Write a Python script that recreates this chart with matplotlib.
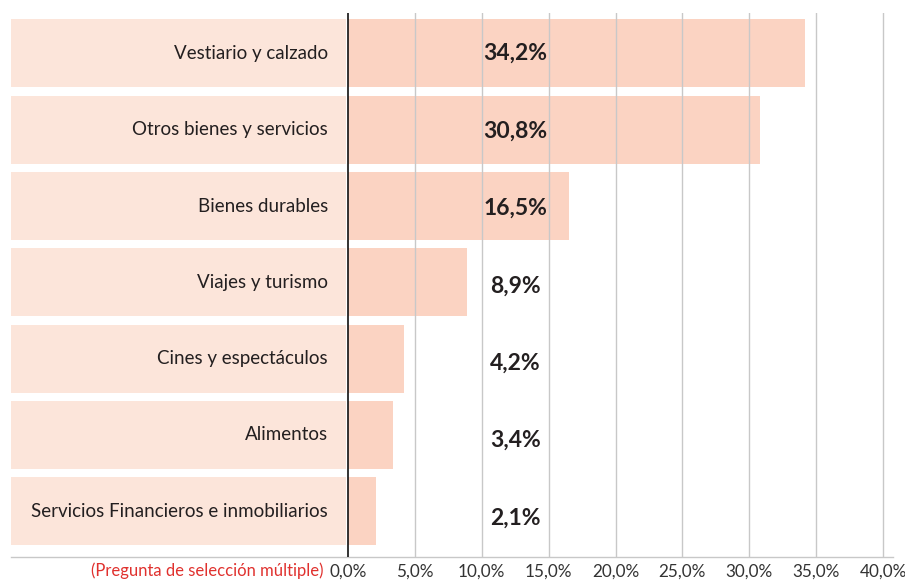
import matplotlib
matplotlib.use("Agg")
import matplotlib.pyplot as plt

categories = ["Vestiario y calzado", "Otros bienes y servicios", "Bienes durables",
              "Viajes y turismo", "Cines y espectáculos", "Alimentos",
              "Servicios Financieros e inmobiliarios"]
values = [34.2, 30.8, 16.5, 8.9, 4.2, 3.4, 2.1]
value_labels = ["34,2%", "30,8%", "16,5%", "8,9%", "4,2%", "3,4%", "2,1%"]
ticks = [0, 5, 10, 15, 20, 25, 30, 35, 40]
tick_labels = ["0,0%", "5,0%", "10,0%", "15,0%", "20,0%", "25,0%", "30,0%", "35,0%", "40,0%"]
note = "(Pregunta de selección múltiple)"

plt.rcParams['font.family'] = ['Lato', 'DejaVu Sans']

W, H = 905, 580
fig = plt.figure(figsize=(W / 100, H / 100), dpi=100)
ax_left, ax_right, ax_top, ax_bot = 11, 893, 13, 557
ax = fig.add_axes([ax_left / W, 1 - ax_bot / H, (ax_right - ax_left) / W, (ax_bot - ax_top) / H])

px_per = (883 - 348) / 40.0
xmin = (ax_left - 348) / px_per
xmax = (ax_right - 348) / px_per
ax.set_xlim(xmin, xmax)
ax.set_ylim(6.6, -0.53)

y = list(range(len(categories)))
panel_color = "#FCE5DA"
bar_color = "#FBD3C2"
text_color = "#231F20"
h = 0.89

# label panel
ax.barh(y, [-0.15 - xmin] * len(y), left=xmin, height=h, color=panel_color, zorder=1)
# data bars
ax.barh(y, values, left=0, height=h, color=bar_color, zorder=1)

for t in ticks[1:]:
    ax.axvline(t, color="#C8C8C8", lw=1.0, zorder=2)
ax.axvline(0, color="#111111", lw=1.2, zorder=3)

for yi, cat in zip(y, categories):
    ax.text((328 - 348) / px_per, yi, cat, ha="right", va="center",
            fontsize=13.5, color=text_color, zorder=4)

for yi, lab in zip(y, value_labels):
    ax.text(12.5, yi + 0.015 * yi, lab, ha="center", va="center", fontsize=16.5,
            fontweight="bold", color=text_color, zorder=4)

for s in ["top", "right", "left"]:
    ax.spines[s].set_visible(False)
ax.spines["bottom"].set_color("#C8C8C8")
ax.spines["bottom"].set_linewidth(1.0)
ax.set_yticks([])
ax.set_xticks(ticks)
ax.set_xticklabels(tick_labels, fontsize=12.3, color="#333333")
ax.tick_params(axis="x", length=0, pad=5)

fig.text(323 / W, 1 - 571 / H, note, ha="right", va="center", fontsize=12,
         color="#E0312E")

fig.savefig("out.png", dpi=100)
